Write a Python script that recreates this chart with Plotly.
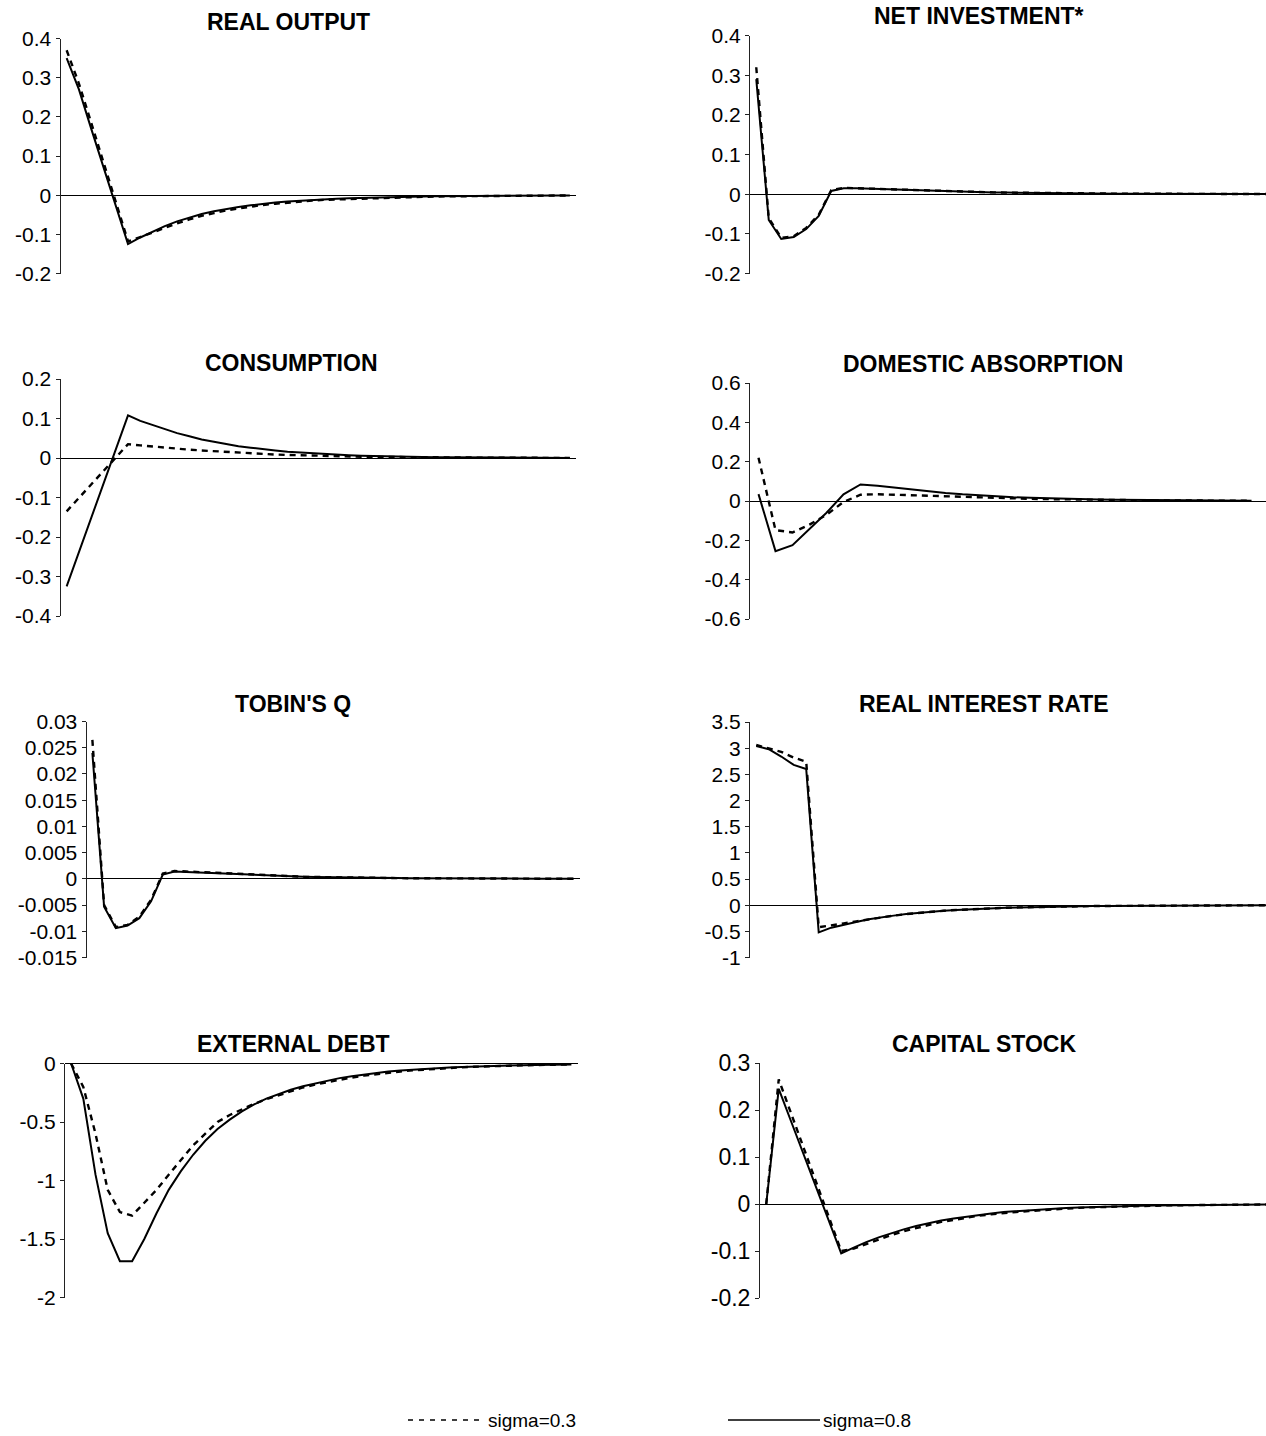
import plotly.graph_objects as go

# ---------------- data ----------------
periods = list(range(42))
periods_da = list(range(30))

real_output_s03 = [0.37, 0.285, 0.185, 0.085, -0.018, -0.118, -0.107, -0.095, -0.083, -0.072, -0.062, -0.053,
                   -0.046, -0.039, -0.034, -0.029, -0.025, -0.022, -0.019, -0.016, -0.014, -0.012, -0.011, -0.009,
                   -0.008, -0.007, -0.006, -0.005, -0.0045, -0.004, -0.0035, -0.003, -0.0026, -0.0023, -0.002,
                   -0.0017, -0.0015, -0.0013, -0.0011, -0.001, -0.0008, -0.0007]
real_output_s08 = [0.35, 0.27, 0.17, 0.073, -0.026, -0.125, -0.108, -0.093, -0.079, -0.067, -0.057, -0.048,
                   -0.041, -0.035, -0.030, -0.026, -0.022, -0.019, -0.016, -0.014, -0.012, -0.010, -0.009, -0.008,
                   -0.007, -0.006, -0.005, -0.0045, -0.004, -0.0035, -0.003, -0.0026, -0.0023, -0.002, -0.0017,
                   -0.0015, -0.0013, -0.0011, -0.001, -0.0008, -0.0007, -0.0006]

net_investment_s03 = [0.32, -0.06, -0.11, -0.106, -0.085, -0.052, 0.01, 0.016, 0.015, 0.014, 0.012, 0.011, 0.010,
                      0.009, 0.008, 0.007, 0.006, 0.0055, 0.005, 0.0045, 0.004, 0.0035, 0.003, 0.0027, 0.0024,
                      0.0021, 0.0019, 0.0017, 0.0015, 0.0013, 0.0012, 0.001, 0.0009, 0.0008, 0.0007, 0.0006,
                      0.0005, 0.0005, 0.0004, 0.0004, 0.0003, 0.0003]
net_investment_s08 = [0.29, -0.065, -0.113, -0.108, -0.088, -0.055, 0.008, 0.015, 0.015, 0.014, 0.012, 0.011,
                      0.010, 0.009, 0.008, 0.007, 0.006, 0.0055, 0.005, 0.0045, 0.004, 0.0035, 0.003, 0.0027,
                      0.0024, 0.0021, 0.0019, 0.0017, 0.0015, 0.0013, 0.0012, 0.001, 0.0009, 0.0008, 0.0007,
                      0.0006, 0.0005, 0.0005, 0.0004, 0.0004, 0.0003, 0.0003]

consumption_s03 = [-0.135, -0.101, -0.067, -0.033, 0.001, 0.035, 0.032, 0.029, 0.026, 0.023, 0.021, 0.019, 0.017,
                   0.015, 0.013, 0.0115, 0.010, 0.0088, 0.0077, 0.0067, 0.0058, 0.005, 0.0044, 0.0038, 0.0033,
                   0.0029, 0.0025, 0.0022, 0.0019, 0.0016, 0.0014, 0.0012, 0.001, 0.0009, 0.0008, 0.0007, 0.0006,
                   0.0005, 0.0004, 0.0004, 0.0003, 0.0003]
consumption_s08 = [-0.325, -0.238, -0.152, -0.065, 0.021, 0.108, 0.094, 0.083, 0.072, 0.063, 0.055, 0.047, 0.041,
                   0.035, 0.030, 0.026, 0.022, 0.019, 0.016, 0.014, 0.012, 0.010, 0.0085, 0.0072, 0.006, 0.005,
                   0.0043, 0.0036, 0.003, 0.0025, 0.0021, 0.0018, 0.0015, 0.0013, 0.0011, 0.0009, 0.0008, 0.0007,
                   0.0006, 0.0005, 0.0004, 0.0003]

absorption_s03 = [0.22, -0.148, -0.16, -0.12, -0.07, -0.005, 0.032, 0.034, 0.032, 0.029, 0.026, 0.023, 0.02,
                  0.017, 0.015, 0.013, 0.011, 0.0095, 0.008, 0.007, 0.006, 0.005, 0.0042, 0.0035, 0.003, 0.0025,
                  0.0021, 0.0018, 0.0015, 0.0012]
absorption_s08 = [0.035, -0.255, -0.225, -0.145, -0.06, 0.034, 0.084, 0.078, 0.068, 0.058, 0.049, 0.041, 0.034,
                  0.028, 0.023, 0.019, 0.016, 0.013, 0.011, 0.009, 0.0075, 0.0062, 0.0052, 0.0043, 0.0036, 0.003,
                  0.0025, 0.0021, 0.0017, 0.0014]

tobins_q_s03 = [0.0265, -0.005, -0.0092, -0.0088, -0.0072, -0.004, 0.001, 0.0015, 0.0014, 0.0013, 0.0011, 0.001,
                0.0009, 0.0008, 0.0007, 0.0006, 0.0005, 0.00045, 0.0004, 0.00035, 0.0003, 0.00027, 0.00024,
                0.00021, 0.00018, 0.00016, 0.00014, 0.00012, 0.0001, 0.00009, 0.00008, 0.00007, 0.00006, 0.00005,
                0.00005, 0.00004, 0.00004, 0.00003, 0.00003, 0.00003, 0.00002, 0.00002]
tobins_q_s08 = [0.024, -0.0053, -0.0094, -0.0089, -0.0075, -0.0043, 0.0008, 0.0014, 0.0013, 0.0012, 0.0011, 0.001,
                0.0009, 0.0008, 0.0007, 0.0006, 0.0005, 0.00045, 0.0004, 0.00035, 0.0003, 0.00027, 0.00024,
                0.00021, 0.00018, 0.00016, 0.00014, 0.00012, 0.0001, 0.00009, 0.00008, 0.00007, 0.00006, 0.00005,
                0.00005, 0.00004, 0.00004, 0.00003, 0.00003, 0.00003, 0.00002, 0.00002]

interest_s03 = [3.06, 3.0, 2.93, 2.82, 2.74, -0.42, -0.39, -0.35, -0.31, -0.27, -0.23, -0.2, -0.17, -0.145, -0.125,
                -0.107, -0.092, -0.079, -0.068, -0.058, -0.05, -0.043, -0.037, -0.032, -0.027, -0.023, -0.02,
                -0.017, -0.015, -0.013, -0.011, -0.0095, -0.008, -0.007, -0.006, -0.005, -0.0045, -0.004, -0.0035,
                -0.003, -0.0025, -0.002]
interest_s08 = [3.04, 2.98, 2.84, 2.68, 2.6, -0.52, -0.43, -0.37, -0.32, -0.27, -0.23, -0.2, -0.17, -0.145, -0.125,
                -0.107, -0.092, -0.079, -0.068, -0.058, -0.05, -0.043, -0.037, -0.032, -0.027, -0.023, -0.02,
                -0.017, -0.015, -0.013, -0.011, -0.0095, -0.008, -0.007, -0.006, -0.005, -0.0045, -0.004, -0.0035,
                -0.003, -0.0025, -0.002]

debt_s03 = [0, -0.2, -0.6, -1.08, -1.27, -1.30, -1.19, -1.08, -0.95, -0.82, -0.70, -0.60, -0.50, -0.44, -0.39,
            -0.345, -0.305, -0.27, -0.235, -0.205, -0.18, -0.158, -0.138, -0.12, -0.104, -0.09, -0.078, -0.068,
            -0.059, -0.051, -0.044, -0.038, -0.033, -0.028, -0.024, -0.021, -0.018, -0.015, -0.013, -0.011,
            -0.01, -0.009]
debt_s08 = [0, -0.3, -0.95, -1.45, -1.69, -1.69, -1.5, -1.28, -1.08, -0.92, -0.78, -0.66, -0.56, -0.48, -0.41,
            -0.35, -0.30, -0.26, -0.225, -0.195, -0.17, -0.145, -0.125, -0.108, -0.093, -0.08, -0.069, -0.06,
            -0.052, -0.045, -0.039, -0.034, -0.029, -0.025, -0.022, -0.019, -0.016, -0.014, -0.012, -0.01,
            -0.009, -0.008]

capital_s03 = [0, 0.265, 0.192, 0.119, 0.046, -0.027, -0.1, -0.095, -0.085, -0.075, -0.066, -0.058, -0.051,
               -0.044, -0.038, -0.034, -0.029, -0.025, -0.022, -0.019, -0.017, -0.015, -0.013, -0.011, -0.0095,
               -0.0082, -0.0071, -0.0062, -0.0054, -0.0047, -0.004, -0.0035, -0.003, -0.0026, -0.0023, -0.002,
               -0.0017, -0.0015, -0.0013, -0.0011, -0.001, -0.0009]
capital_s08 = [0, 0.245, 0.175, 0.105, 0.035, -0.035, -0.105, -0.093, -0.081, -0.071, -0.062, -0.054, -0.047,
               -0.041, -0.035, -0.031, -0.027, -0.023, -0.02, -0.017, -0.015, -0.013, -0.011, -0.0095, -0.0083,
               -0.0072, -0.0062, -0.0054, -0.0047, -0.004, -0.0035, -0.003, -0.0026, -0.0023, -0.002, -0.0017,
               -0.0015, -0.0013, -0.0011, -0.001, -0.0008, -0.0007]

ticks_real_output = [-0.2, -0.1, 0, 0.1, 0.2, 0.3, 0.4]
ticks_net_investment = [-0.2, -0.1, 0, 0.1, 0.2, 0.3, 0.4]
ticks_consumption = [-0.4, -0.3, -0.2, -0.1, 0, 0.1, 0.2]
ticks_absorption = [-0.6, -0.4, -0.2, 0, 0.2, 0.4, 0.6]
ticks_tobins_q = [-0.015, -0.01, -0.005, 0, 0.005, 0.01, 0.015, 0.02, 0.025, 0.03]
ticks_interest = [-1, -0.5, 0, 0.5, 1, 1.5, 2, 2.5, 3, 3.5]
ticks_debt = [-2, -1.5, -1, -0.5, 0]
ticks_capital = [-0.2, -0.1, 0, 0.1, 0.2, 0.3]

series_names = ["sigma=0.3", "sigma=0.8"]

# ---------------- layout ----------------
W, H = 1266, 1436
FONT = "Arial, 'Liberation Sans', sans-serif"

panels = [
    dict(title="REAL OUTPUT", x=periods, a=real_output_s03, b=real_output_s08, ticks=ticks_real_output,
         box=(60.5, 576, 38.5, 273.5), xr=(-0.5, 41.5), fs=21, tpos=(288, 22)),
    dict(title="NET INVESTMENT*", x=periods, a=net_investment_s03, b=net_investment_s08, ticks=ticks_net_investment,
         box=(750, 1266, 35.5, 273.5), xr=(-0.5, 40.8), fs=21, tpos=(979, 16)),
    dict(title="CONSUMPTION", x=periods, a=consumption_s03, b=consumption_s08, ticks=ticks_consumption,
         box=(60.5, 576, 379, 616), xr=(-0.5, 41.5), fs=21, tpos=(291, 363)),
    dict(title="DOMESTIC ABSORPTION", x=periods_da, a=absorption_s03, b=absorption_s08, ticks=ticks_absorption,
         box=(750, 1266, 383, 619), xr=(-0.5, 29.85), fs=21, tpos=(983, 364)),
    dict(title="TOBIN'S Q", x=periods, a=tobins_q_s03, b=tobins_q_s08, ticks=ticks_tobins_q,
         box=(86.5, 579.5, 721.5, 957.5), xr=(-0.5, 41.5), fs=21, tpos=(293, 704)),
    dict(title="REAL INTEREST RATE", x=periods, a=interest_s03, b=interest_s08, ticks=ticks_interest,
         box=(750, 1266, 722, 957.5), xr=(-0.5, 40.8), fs=21, tpos=(984, 704)),
    dict(title="EXTERNAL DEBT", x=periods, a=debt_s03, b=debt_s08, ticks=ticks_debt,
         box=(65, 577.5, 1063.5, 1297.5), xr=(-0.5, 41.5), fs=21, tpos=(293, 1044)),
    dict(title="CAPITAL STOCK", x=periods, a=capital_s03, b=capital_s08, ticks=ticks_capital,
         box=(760, 1266, 1063, 1298), xr=(-0.5, 40.0), fs=23, tpos=(984, 1044)),
]

fig = go.Figure()
layout = dict(width=W, height=H, margin=dict(l=0, r=0, t=0, b=0, autoexpand=False), paper_bgcolor="white",
              plot_bgcolor="white", showlegend=False, font=dict(family=FONT, color="black"))
annotations = []

for i, p in enumerate(panels, start=1):
    xa = "x" if i == 1 else f"x{i}"
    ya = "y" if i == 1 else f"y{i}"
    fig.add_trace(go.Scatter(x=p["x"], y=p["a"], mode="lines", name=series_names[0],
                             line=dict(color="black", width=2.4, dash="6px,5px"),
                             xaxis=xa, yaxis=ya, hoverinfo="skip"))
    fig.add_trace(go.Scatter(x=p["x"], y=p["b"], mode="lines", name=series_names[1],
                             line=dict(color="black", width=2),
                             xaxis=xa, yaxis=ya, hoverinfo="skip"))
    x0, x1, y0, y1 = p["box"]
    tv = p["ticks"]
    layout["xaxis" if i == 1 else f"xaxis{i}"] = dict(
        domain=[x0 / W, x1 / W], range=list(p["xr"]), visible=False, anchor=ya, fixedrange=True)
    layout["yaxis" if i == 1 else f"yaxis{i}"] = dict(
        domain=[1 - y1 / H, 1 - y0 / H], range=[min(tv), max(tv)], anchor=xa,
        tickvals=tv, ticktext=[f"{v:g}" for v in tv], tickfont=dict(size=p["fs"], family=FONT, color="black"),
        showline=True, linecolor="#222", linewidth=1, ticks="outside", ticklen=4, tickwidth=1,
        tickcolor="#222", showgrid=False, zeroline=True, zerolinecolor="black", zerolinewidth=1,
        fixedrange=True)
    annotations.append(dict(text=f"<b>{p['title']}</b>", x=p["tpos"][0] / W, y=1 - p["tpos"][1] / H,
                            xref="paper", yref="paper", xanchor="center", yanchor="middle",
                            showarrow=False, font=dict(size=23, family=FONT, color="black")))

# legend (drawn as keys + labels at the bottom)
ly = 1 - 1420 / H
shapes = [
    dict(type="line", xref="paper", yref="paper", x0=408 / W, x1=485 / W, y0=ly, y1=ly,
         line=dict(color="black", width=1.6, dash="5px,6px")),
    dict(type="line", xref="paper", yref="paper", x0=728 / W, x1=820 / W, y0=ly, y1=ly,
         line=dict(color="black", width=1.6)),
]
annotations.append(dict(text=series_names[0], x=486 / W, y=ly, xref="paper", yref="paper", xanchor="left",
                        yanchor="middle", showarrow=False, font=dict(size=19, family=FONT, color="black")))
annotations.append(dict(text=series_names[1], x=821 / W, y=ly, xref="paper", yref="paper", xanchor="left",
                        yanchor="middle", showarrow=False, font=dict(size=19, family=FONT, color="black")))

layout["annotations"] = annotations
layout["shapes"] = shapes
fig.update_layout(**layout)
fig.write_html("out.html", config={"displayModeBar": False, "staticPlot": True},
               post_script="document.body.style.margin='0px';document.body.style.overflow='hidden';")
